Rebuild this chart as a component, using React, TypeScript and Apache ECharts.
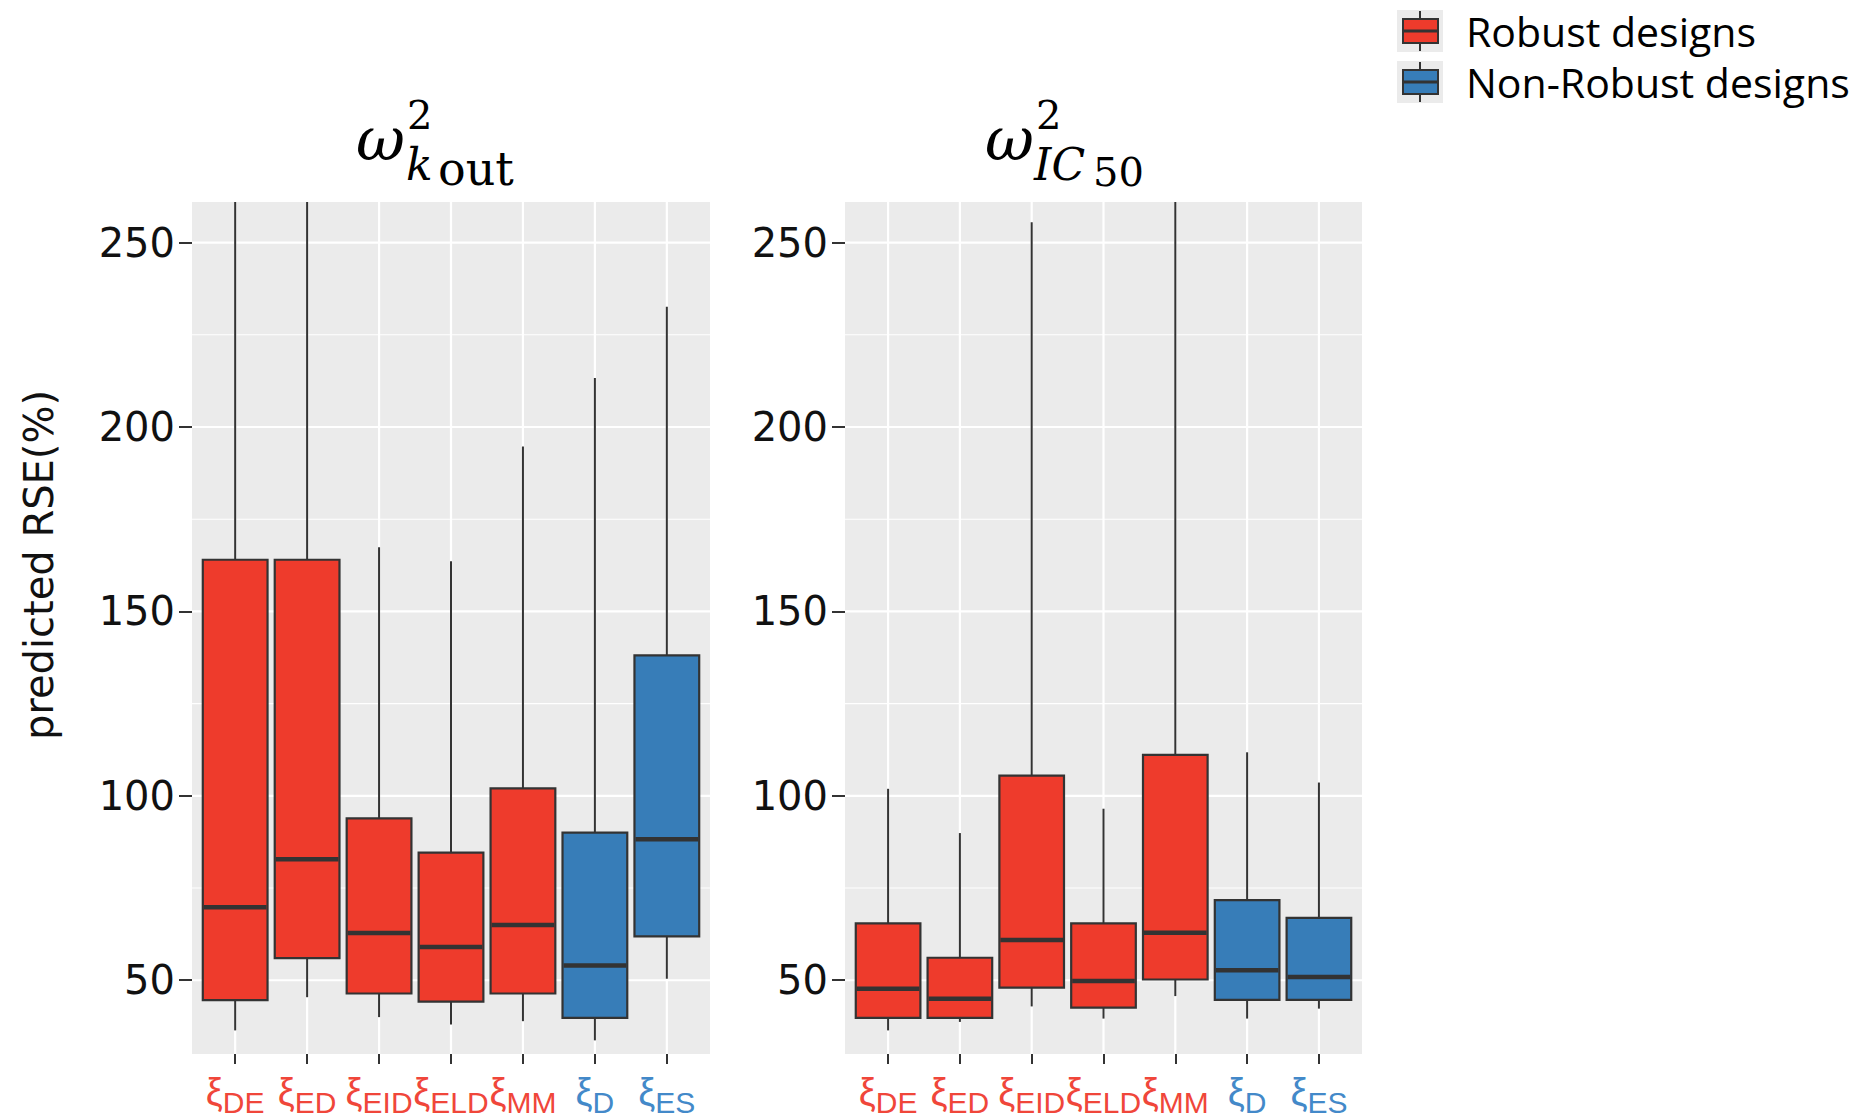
import React, { useEffect, useRef } from "react";
import * as echarts from "echarts";

// ---------- data ----------
const categories = ["DE", "ED", "EID", "ELD", "MM", "D", "ES"];
const categoryPositions = [0, 1, 2, 3, 4, 5, 6];
const designGroup = [
  "Robust designs",
  "Robust designs",
  "Robust designs",
  "Robust designs",
  "Robust designs",
  "Non-Robust designs",
  "Non-Robust designs",
];
const groupNames = ["Robust designs", "Non-Robust designs"];
const groupFill = ["#EE3B2C", "#377DB8"];
const groupLabel = ["#F0463A", "#4389C9"];

// [lower whisker, Q1, median, Q3, upper whisker]
const kOutStats = [
  [36.4, 44.6, 69.8, 164.0, 270],
  [45.4, 56.0, 82.8, 164.0, 270],
  [40.0, 46.4, 62.8, 93.9, 167.4],
  [38.0, 44.2, 59.0, 84.6, 163.6],
  [38.9, 46.4, 65.0, 102.0, 194.7],
  [33.7, 39.8, 54.0, 90.0, 213.3],
  [50.4, 61.9, 88.2, 138.1, 232.6],
];
const ic50Stats = [
  [36.4, 39.8, 47.7, 65.4, 101.9],
  [38.7, 39.8, 45.0, 56.1, 89.9],
  [42.9, 48.0, 60.9, 105.5, 255.5],
  [39.6, 42.6, 49.8, 65.4, 96.5],
  [45.7, 50.2, 62.9, 111.1, 270],
  [39.6, 44.7, 52.7, 71.7, 111.8],
  [42.3, 44.7, 50.9, 66.9, 103.6],
];

const yMajorTicks = [50, 100, 150, 200, 250];
const yMinorTicks = [75, 125, 175, 225];
const yMin = 30;
const yMax = 261;
const xMin = -0.6;
const xMax = 6.6;
const yAxisTitle = "predicted RSE(%)";

// ---------- helpers ----------
const EDGE = "#333333";

const colorIdx = (i: number) => groupNames.indexOf(designGroup[i]);

const boxRender = (params: any, api: any) => {
  const idx = api.value(0);
  const cs = params.coordSys;
  const clampY = (y: number) => Math.max(cs.y, Math.min(cs.y + cs.height, y));
  const lo = api.coord([idx, api.value(1)]);
  const q1 = api.coord([idx, api.value(2)]);
  const med = api.coord([idx, api.value(3)]);
  const q3 = api.coord([idx, api.value(4)]);
  const hi = api.coord([idx, api.value(5)]);
  const unit = api.size([1, 0])[0];
  const w = unit * 0.9;
  const fill = groupFill[colorIdx(idx)];
  return {
    type: "group",
    children: [
      {
        type: "line",
        shape: { x1: lo[0], y1: clampY(lo[1]), x2: q1[0], y2: q1[1] },
        style: { stroke: EDGE, lineWidth: 2 },
      },
      {
        type: "line",
        shape: { x1: q3[0], y1: q3[1], x2: hi[0], y2: clampY(hi[1]) },
        style: { stroke: EDGE, lineWidth: 2 },
      },
      {
        type: "rect",
        shape: { x: q1[0] - w / 2, y: q3[1], width: w, height: q1[1] - q3[1] },
        style: { fill, stroke: EDGE, lineWidth: 2.2 },
      },
      {
        type: "line",
        shape: { x1: med[0] - w / 2 + 1, y1: med[1], x2: med[0] + w / 2 - 1, y2: med[1] },
        style: { stroke: EDGE, lineWidth: 4.5 },
      },
    ],
  };
};

// gridline rows: [xPosition, yValue, kind]  kind 0 major-h, 1 minor-h, 2 vertical
const gridRows = [
  ...yMajorTicks.map((v) => [0, v, 0]),
  ...yMinorTicks.map((v) => [0, v, 1]),
  ...categoryPositions.map((p) => [p, yMin, 2]),
];

const gridRender = (params: any, api: any) => {
  const cs = params.coordSys;
  const kind = api.value(2);
  if (kind === 2) {
    const p = api.coord([api.value(0), yMin]);
    return {
      type: "line",
      shape: { x1: p[0], y1: cs.y, x2: p[0], y2: cs.y + cs.height },
      style: { stroke: "#FFFFFF", lineWidth: 2.2 },
    };
  }
  const p = api.coord([0, api.value(1)]);
  return {
    type: "line",
    shape: { x1: cs.x, y1: p[1], x2: cs.x + cs.width, y2: p[1] },
    style: { stroke: "#FFFFFF", lineWidth: kind === 0 ? 2.2 : 1.1 },
  };
};

const xLabelFormatter = (value: number) => {
  const i = Math.round(value);
  const g = colorIdx(i) === 0 ? "R" : "B";
  return `{xi${g}|ξ}{sub${g}|${categories[i]}}`;
};

const xiStyle = (color: string) => ({
  color,
  fontSize: 38,
  lineHeight: 38,
  fontFamily: "Liberation Sans",
  padding: [0, 0, 1, 0],
});
const subStyle = (color: string) => ({
  color,
  fontSize: 30,
  lineHeight: 24,
  fontFamily: "Liberation Sans",
  padding: [20, 0, 0, 0],
});

const xRich = {
  xiR: xiStyle(groupLabel[0]),
  subR: subStyle(groupLabel[0]),
  xiB: xiStyle(groupLabel[1]),
  subB: subStyle(groupLabel[1]),
};

const makeXAxis = (gridIndex: number) => ({
  type: "value",
  gridIndex,
  min: xMin,
  max: xMax,
  axisLine: { show: false, onZero: false },
  axisTick: {
    show: true,
    length: 10,
    lineStyle: { color: EDGE, width: 2 },
    customValues: categoryPositions,
  },
  axisLabel: {
    customValues: categoryPositions,
    margin: 19,
    formatter: xLabelFormatter,
    rich: xRich,
  },
  splitLine: { show: false },
  minorSplitLine: { show: false },
});

const makeYAxis = (gridIndex: number) => ({
  type: "value",
  gridIndex,
  min: yMin,
  max: yMax,
  splitNumber: 5,
  axisLine: { show: false, onZero: false },
  axisTick: {
    show: true,
    length: 13,
    lineStyle: { color: EDGE, width: 2 },
    customValues: yMajorTicks,
  },
  axisLabel: {
    customValues: yMajorTicks,
    fontSize: 40,
    fontFamily: "DejaVu Sans",
    color: "#111111",
    margin: 17,
  },
  splitLine: { show: false },
  minorSplitLine: { show: false },
});

const titleFont = "DejaVu Serif";

export default function App() {
  const ref = useRef<HTMLDivElement>(null);

  useEffect(() => {
    if (!ref.current) return;
    const chart = echarts.init(ref.current, undefined, { renderer: "svg" });

    const legendChildren: any[] = [];
    groupNames.forEach((name, i) => {
      const top = i === 0 ? 10 : 61;
      legendChildren.push(
        { type: "rect", shape: { x: 1397, y: top, width: 46, height: 42 }, style: { fill: "#EBEBEB" } },
        { type: "line", shape: { x1: 1420, y1: top + 1, x2: 1420, y2: top + 41 }, style: { stroke: EDGE, lineWidth: 2 } },
        { type: "rect", shape: { x: 1403, y: top + 9, width: 35, height: 24 }, style: { fill: groupFill[i], stroke: EDGE, lineWidth: 2 } },
        { type: "line", shape: { x1: 1403, y1: top + 21, x2: 1438, y2: top + 21 }, style: { stroke: EDGE, lineWidth: 3 } },
        {
          type: "text",
          x: 1466,
          y: top + 21,
          style: {
            text: name,
            font: "41px 'Open Sans'",
            lineHeight: 44,
            fill: "#000000",
            textAlign: "left",
            textVerticalAlign: "middle",
          },
        }
      );
    });

    // title pieces, positioned by the vertical centre of each piece
    const t = (
      text: string,
      x: number,
      cy: number,
      size: number,
      italic: boolean,
      align: string = "left"
    ) => ({
      type: "text",
      x,
      y: cy,
      style: {
        text,
        font: `${italic ? "italic " : ""}${size}px '${titleFont}'`,
        lineHeight: Math.round(size * 0.9),
        fill: "#000000",
        textAlign: align,
        textVerticalAlign: "middle",
      },
    });

    const option: any = {
      animation: false,
      backgroundColor: "#FFFFFF",
      grid: [
        { left: 192, top: 202, width: 518, height: 852, show: true, backgroundColor: "#EBEBEB", borderWidth: 0 },
        { left: 845, top: 202, width: 517, height: 852, show: true, backgroundColor: "#EBEBEB", borderWidth: 0 },
      ],
      xAxis: [makeXAxis(0), makeXAxis(1)],
      yAxis: [makeYAxis(0), makeYAxis(1)],
      series: [
        {
          type: "custom",
          name: "grid-k",
          xAxisIndex: 0,
          yAxisIndex: 0,
          z: 1,
          silent: true,
          renderItem: gridRender,
          data: gridRows,
          encode: { x: 0, y: 1 },
        },
        {
          type: "custom",
          name: "grid-ic",
          xAxisIndex: 1,
          yAxisIndex: 1,
          z: 1,
          silent: true,
          renderItem: gridRender,
          data: gridRows,
          encode: { x: 0, y: 1 },
        },
        {
          type: "custom",
          name: "omega k_out",
          xAxisIndex: 0,
          yAxisIndex: 0,
          z: 2,
          clip: true,
          renderItem: boxRender,
          data: kOutStats.map((s, i) => [categoryPositions[i], ...s]),
          encode: { x: 0, y: [1, 2, 3, 4, 5] },
        },
        {
          type: "custom",
          name: "omega IC50",
          xAxisIndex: 1,
          yAxisIndex: 1,
          z: 2,
          clip: true,
          renderItem: boxRender,
          data: ic50Stats.map((s, i) => [categoryPositions[i], ...s]),
          encode: { x: 0, y: [1, 2, 3, 4, 5] },
        },
      ],
      graphic: [
        {
          type: "text",
          x: 39,
          y: 565,
          rotation: Math.PI / 2,
          style: {
            text: yAxisTitle,
            font: "40px 'DejaVu Sans'",
            fill: "#111111",
            textAlign: "center",
            textVerticalAlign: "middle",
          },
        },
        // title 1: omega^2_{k out}
        t("ω", 405, 139, 60, true, "right"),
        t("2", 407, 115, 40, false),
        t("k", 406, 164, 44, true),
        t("out", 438, 169, 46, false),
        // title 2: omega^2_{IC 50}
        t("ω", 1034, 139, 60, true, "right"),
        t("2", 1036, 115, 40, false),
        t("IC", 1034, 164, 44, true),
        t("50", 1093, 172, 40, false),
        ...legendChildren,
      ],
    };

    chart.setOption(option);
    return () => chart.dispose();
  }, []);

  return (
    <div
      ref={ref}
      style={{ position: "fixed", left: 0, top: 0, width: 1861, height: 1118, background: "#FFFFFF" }}
    />
  );
}
